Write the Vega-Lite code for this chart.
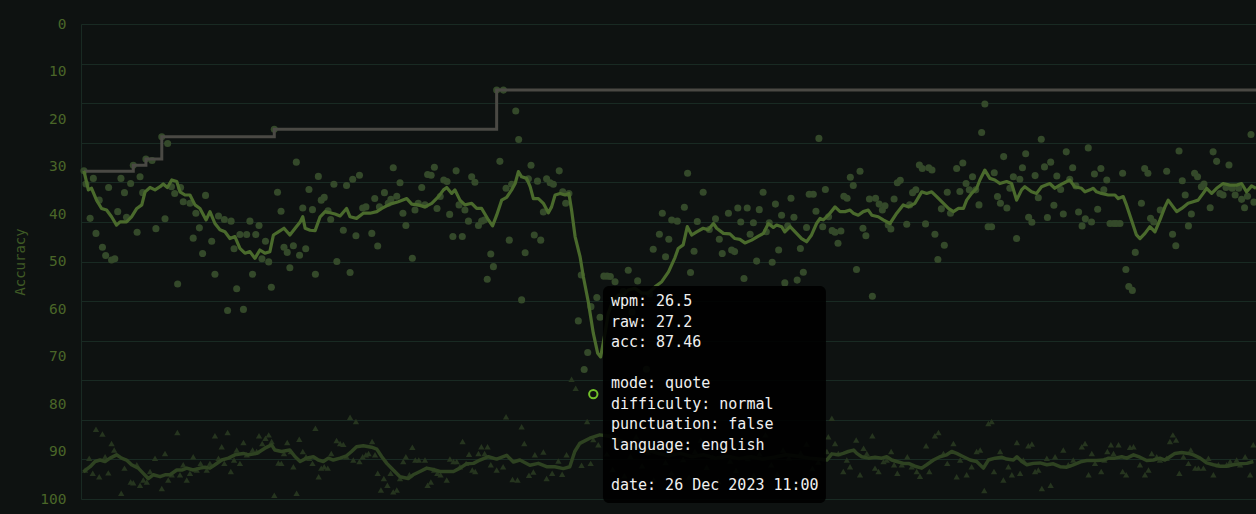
{
"$schema":"https://vega.github.io/schema/vega-lite/v6.json",
"width":1175,"height":475,
"autosize":"none",
"padding":{"left":81,"top":24,"right":0,"bottom":15},
"background":"#0e1211",
"config":{"view":{"stroke":null},"font":"DejaVu Sans Mono"},
"datasets":{
"wpm":[
{"test":1.0,"wpm":82.9},{"test":1.7,"wpm":79.6},{"test":3.1,"wpm":70.9},{"test":4.2,"wpm":81.0},{"test":5.1,"wpm":67.1},{"test":6.2,"wpm":75.5},{"test":7.3,"wpm":63.6},{"test":8.4,"wpm":61.5},{"test":9.4,"wpm":78.7},{"test":10.4,"wpm":60.4},{"test":11.5,"wpm":60.7},{"test":12.5,"wpm":72.6},{"test":13.6,"wpm":81.0},{"test":14.8,"wpm":77.4},{"test":15.5,"wpm":71.2},{"test":16.9,"wpm":79.7},{"test":17.8,"wpm":84.3},{"test":19.1,"wpm":67.4},{"test":20.1,"wpm":81.4},{"test":21.0,"wpm":77.4},{"test":22.1,"wpm":85.9},{"test":24.2,"wpm":85.5},{"test":25.5,"wpm":68.3},{"test":27.5,"wpm":91.5},{"test":28.6,"wpm":70.8},{"test":29.5,"wpm":89.8},{"test":30.8,"wpm":78.9},{"test":31.9,"wpm":77.2},{"test":32.9,"wpm":54.3},{"test":33.9,"wpm":78.7},{"test":34.8,"wpm":75.1},{"test":37.1,"wpm":74.7},{"test":38.2,"wpm":65.9},{"test":39.1,"wpm":72.2},{"test":40.3,"wpm":68.5},{"test":41.4,"wpm":62.0},{"test":42.4,"wpm":76.7},{"test":44.5,"wpm":65.1},{"test":45.6,"wpm":56.8},{"test":46.8,"wpm":71.5},{"test":48.8,"wpm":70.6},{"test":49.9,"wpm":47.6},{"test":51.1,"wpm":70.2},{"test":52.1,"wpm":63.2},{"test":53.0,"wpm":53.1},{"test":54.1,"wpm":66.8},{"test":55.3,"wpm":47.9},{"test":56.4,"wpm":66.8},{"test":57.5,"wpm":70.2},{"test":58.4,"wpm":56.8},{"test":59.5,"wpm":66.8},{"test":60.6,"wpm":69.1},{"test":61.6,"wpm":60.7},{"test":62.8,"wpm":65.1},{"test":63.9,"wpm":59.9},{"test":64.8,"wpm":53.5},{"test":65.8,"wpm":93.4},{"test":66.9,"wpm":77.5},{"test":68.1,"wpm":72.7},{"test":69.1,"wpm":63.6},{"test":70.2,"wpm":62.3},{"test":71.1,"wpm":58.4},{"test":72.3,"wpm":64.0},{"test":73.3,"wpm":85.1},{"test":74.4,"wpm":61.6},{"test":75.5,"wpm":73.5},{"test":76.5,"wpm":63.2},{"test":77.6,"wpm":78.2},{"test":78.8,"wpm":73.1},{"test":79.8,"wpm":56.8},{"test":80.8,"wpm":81.5},{"test":81.8,"wpm":75.5},{"test":82.8,"wpm":76.2},{"test":84.1,"wpm":72.8},{"test":85.0,"wpm":70.6},{"test":86.1,"wpm":79.5},{"test":87.1,"wpm":60.0},{"test":89.3,"wpm":67.9},{"test":90.4,"wpm":79.2},{"test":91.6,"wpm":57.2},{"test":92.5,"wpm":80.8},{"test":93.6,"wpm":66.5},{"test":94.8,"wpm":81.8},{"test":95.9,"wpm":73.5},{"test":97.0,"wpm":73.8},{"test":99.0,"wpm":67.1},{"test":100.0,"wpm":75.9},{"test":101.0,"wpm":63.9},{"test":101.6,"wpm":73.8},
{"test":103.3,"wpm":77.4},{"test":104.6,"wpm":74.7},{"test":105.5,"wpm":75.7},{"test":106.3,"wpm":83.7},{"test":107.5,"wpm":76.5},{"test":108.6,"wpm":79.9},{"test":109.6,"wpm":72.2},{"test":110.6,"wpm":69.1},{"test":112.8,"wpm":60.8},{"test":113.7,"wpm":73.0},{"test":114.8,"wpm":74.7},{"test":116.0,"wpm":78.7},{"test":117.1,"wpm":74.3},{"test":118.0,"wpm":82.0},{"test":119.2,"wpm":81.8},{"test":120.3,"wpm":83.8},{"test":121.2,"wpm":73.4},{"test":122.3,"wpm":76.4},{"test":123.5,"wpm":80.6},{"test":124.6,"wpm":80.2},{"test":125.5,"wpm":71.9},{"test":126.6,"wpm":66.3},{"test":127.7,"wpm":82.9},{"test":128.7,"wpm":74.3},{"test":129.8,"wpm":66.3},{"test":130.7,"wpm":73.0},{"test":131.9,"wpm":70.2},{"test":133.0,"wpm":81.4},{"test":134.1,"wpm":80.0},{"test":135.3,"wpm":69.1},{"test":136.4,"wpm":70.2},{"test":137.3,"wpm":70.5},{"test":138.3,"wpm":55.5},{"test":139.5,"wpm":61.9},{"test":140.4,"wpm":58.7},{"test":141.5,"wpm":103.3},{"test":142.6,"wpm":85.3},{"test":143.8,"wpm":103.3},{"test":144.7,"wpm":78.5},{"test":145.8,"wpm":65.4},{"test":146.6,"wpm":79.5},{"test":148.0,"wpm":98.0},{"test":149.0,"wpm":90.8},{"test":150.0,"wpm":50.3},{"test":151.2,"wpm":62.2},{"test":152.3,"wpm":80.9},{"test":153.2,"wpm":84.3},{"test":154.3,"wpm":66.7},{"test":155.4,"wpm":80.3},{"test":156.5,"wpm":65.4},{"test":157.4,"wpm":72.5},{"test":158.5,"wpm":80.9},{"test":159.7,"wpm":79.9},{"test":160.8,"wpm":79.5},{"test":162.8,"wpm":82.9},{"test":164.0,"wpm":77.6},{"test":165.0,"wpm":74.7},{"test":166.1,"wpm":77.2},{"test":169.3,"wpm":45.0},{"test":170.3,"wpm":56.6},{"test":171.3,"wpm":32.7},{"test":172.5,"wpm":37.0},{"test":173.6,"wpm":48.6},{"test":174.4,"wpm":26.5},{"test":175.6,"wpm":50.9},{"test":176.7,"wpm":45.9},{"test":178.0,"wpm":56.3},{"test":179.1,"wpm":56.3},{"test":180.2,"wpm":56.2},{"test":181.8,"wpm":54.9},{"test":183.2,"wpm":49.5},{"test":184.6,"wpm":52.4},{"test":186.3,"wpm":57.8},{"test":187.6,"wpm":47.2},{"test":189.5,"wpm":55.1},{"test":190.8,"wpm":44.6},{"test":192.5,"wpm":32.8},{"test":193.6,"wpm":51.8},{"test":194.8,"wpm":63.1},{"test":196.9,"wpm":66.9},{"test":197.9,"wpm":72.2},{"test":199.0,"wpm":61.2},{"test":200.1,"wpm":65.6},{"test":201.1,"wpm":70.5},
{"test":203.0,"wpm":70.2},{"test":205.4,"wpm":73.7},{"test":206.5,"wpm":82.3},{"test":207.5,"wpm":57.2},{"test":208.7,"wpm":62.6},{"test":209.8,"wpm":70.1},{"test":211.8,"wpm":77.5},{"test":213.9,"wpm":68.1},{"test":216.0,"wpm":70.8},{"test":217.3,"wpm":65.6},{"test":218.3,"wpm":62.0},{"test":220.4,"wpm":72.2},{"test":221.5,"wpm":62.9},{"test":222.5,"wpm":62.5},{"test":223.6,"wpm":73.5},{"test":224.6,"wpm":70.0},{"test":225.7,"wpm":55.7},{"test":226.8,"wpm":73.5},{"test":227.8,"wpm":66.9},{"test":228.9,"wpm":69.8},{"test":230.0,"wpm":60.1},{"test":230.9,"wpm":73.1},{"test":232.2,"wpm":77.5},{"test":233.3,"wpm":67.5},{"test":234.3,"wpm":69.8},{"test":235.3,"wpm":59.8},{"test":236.4,"wpm":74.5},{"test":237.5,"wpm":62.9},{"test":238.5,"wpm":71.7},{"test":239.6,"wpm":54.6},{"test":240.6,"wpm":69.0},{"test":241.7,"wpm":76.0},{"test":242.7,"wpm":71.2},{"test":243.8,"wpm":55.3},{"test":244.9,"wpm":63.3},{"test":245.9,"wpm":57.3},{"test":247.0,"wpm":68.6},{"test":247.9,"wpm":77.0},{"test":249.3,"wpm":77.0},{"test":250.2,"wpm":72.7},{"test":251.2,"wpm":91.1},{"test":252.5,"wpm":68.8},{"test":253.4,"wpm":78.2},{"test":254.5,"wpm":71.3},{"test":255.7,"wpm":67.8},{"test":256.7,"wpm":67.4},{"test":257.7,"wpm":64.6},{"test":258.7,"wpm":67.7},{"test":259.7,"wpm":76.5},{"test":260.8,"wpm":76.0},{"test":261.9,"wpm":81.3},{"test":262.9,"wpm":79.2},{"test":264.0,"wpm":58.0},{"test":265.2,"wpm":82.8},{"test":266.2,"wpm":68.4},{"test":267.2,"wpm":66.5},{"test":268.4,"wpm":75.8},{"test":269.4,"wpm":51.2},{"test":270.5,"wpm":76.0},{"test":271.7,"wpm":74.5},{"test":272.8,"wpm":73.0},{"test":273.7,"wpm":74.1},{"test":274.8,"wpm":69.2},{"test":275.7,"wpm":68.2},{"test":276.8,"wpm":75.8},{"test":277.9,"wpm":79.9},{"test":278.9,"wpm":80.5},{"test":281.1,"wpm":69.4},{"test":282.1,"wpm":74.3},{"test":283.1,"wpm":77.4},{"test":284.2,"wpm":78.1},{"test":285.4,"wpm":84.4},{"test":286.4,"wpm":83.5},{"test":287.5,"wpm":69.5},{"test":288.6,"wpm":83.7},{"test":289.7,"wpm":83.1},{"test":290.7,"wpm":66.9},{"test":291.7,"wpm":60.5},{"test":292.9,"wpm":73.3},{"test":293.9,"wpm":64.1},{"test":294.9,"wpm":77.5},{"test":296.0,"wpm":72.2},{"test":298.1,"wpm":83.5},{"test":299.2,"wpm":77.7},{"test":300.2,"wpm":84.9},{"test":301.3,"wpm":79.7},{"test":302.4,"wpm":78.1},
{"test":303.5,"wpm":81.4},{"test":304.6,"wpm":78.1},{"test":305.7,"wpm":74.3},{"test":306.6,"wpm":92.6},{"test":307.7,"wpm":99.8},{"test":308.8,"wpm":68.8},{"test":310.0,"wpm":68.8},{"test":310.9,"wpm":82.4},{"test":312.0,"wpm":76.4},{"test":313.0,"wpm":74.7},{"test":314.1,"wpm":86.5},{"test":315.2,"wpm":73.5},{"test":316.2,"wpm":78.5},{"test":317.4,"wpm":81.4},{"test":318.5,"wpm":65.8},{"test":319.6,"wpm":80.8},{"test":320.5,"wpm":83.7},{"test":321.6,"wpm":87.2},{"test":322.6,"wpm":71.2},{"test":323.7,"wpm":69.9},{"test":324.8,"wpm":81.7},{"test":325.9,"wpm":76.1},{"test":326.9,"wpm":90.9},{"test":328.0,"wpm":83.9},{"test":329.0,"wpm":71.1},{"test":330.1,"wpm":85.1},{"test":331.2,"wpm":74.2},{"test":332.2,"wpm":81.6},{"test":333.5,"wpm":78.2},{"test":334.4,"wpm":72.0},{"test":335.4,"wpm":87.7},{"test":336.6,"wpm":80.8},{"test":337.6,"wpm":83.7},{"test":338.7,"wpm":79.1},{"test":339.6,"wpm":72.5},{"test":340.8,"wpm":69.0},{"test":341.9,"wpm":70.8},{"test":342.9,"wpm":88.7},{"test":344.0,"wpm":70.0},{"test":345.0,"wpm":82.1},{"test":346.1,"wpm":73.2},{"test":347.2,"wpm":83.5},{"test":348.2,"wpm":78.1},{"test":349.2,"wpm":80.6},{"test":350.3,"wpm":69.6},{"test":351.6,"wpm":69.6},{"test":352.5,"wpm":69.6},{"test":353.7,"wpm":69.6},{"test":354.6,"wpm":82.3},{"test":355.7,"wpm":58.0},{"test":356.7,"wpm":53.7},{"test":357.9,"wpm":52.7},{"test":358.9,"wpm":62.3},{"test":361.0,"wpm":74.7},{"test":362.1,"wpm":83.5},{"test":363.2,"wpm":82.3},{"test":364.1,"wpm":70.9},{"test":365.2,"wpm":70.0},{"test":367.4,"wpm":73.0},{"test":369.6,"wpm":82.8},{"test":371.6,"wpm":66.9},{"test":372.7,"wpm":64.0},{"test":373.8,"wpm":87.9},{"test":374.9,"wpm":80.4},{"test":375.9,"wpm":76.8},{"test":377.0,"wpm":69.0},{"test":378.0,"wpm":72.0},{"test":379.1,"wpm":82.3},{"test":380.1,"wpm":81.4},{"test":381.4,"wpm":78.9},{"test":382.3,"wpm":79.6},{"test":384.4,"wpm":73.6},{"test":385.4,"wpm":87.7},{"test":386.6,"wpm":85.3},{"test":387.7,"wpm":77.2},{"test":388.8,"wpm":76.8},{"test":389.8,"wpm":78.7},{"test":390.8,"wpm":84.4},{"test":391.9,"wpm":78.5},{"test":392.9,"wpm":76.8},{"test":394.1,"wpm":78.5},{"test":395.1,"wpm":75.7},{"test":396.1,"wpm":73.6},{"test":397.1,"wpm":76.5},{"test":398.3,"wpm":92.1},{"test":399.3,"wpm":75.0}
],
"wpmavg":[
{"test":1.0,"wpm":82.9},{"test":2.5,"wpm":78.1},{"test":3.6,"wpm":78.5},{"test":5.3,"wpm":75.5},{"test":7.0,"wpm":73.4},{"test":8.7,"wpm":73.0},{"test":10.4,"wpm":71.3},{"test":12.1,"wpm":69.2},{"test":13.3,"wpm":70.0},{"test":15.5,"wpm":70.0},{"test":17.2,"wpm":71.3},{"test":19.0,"wpm":73.4},{"test":20.7,"wpm":74.3},{"test":21.8,"wpm":77.6},{"test":23.5,"wpm":78.7},{"test":25.2,"wpm":78.1},{"test":26.9,"wpm":78.9},{"test":28.0,"wpm":79.6},{"test":29.4,"wpm":78.7},{"test":30.9,"wpm":80.6},{"test":32.6,"wpm":80.2},{"test":33.7,"wpm":77.6},{"test":35.4,"wpm":76.8},{"test":37.1,"wpm":76.8},{"test":38.8,"wpm":74.3},{"test":40.5,"wpm":73.4},{"test":42.6,"wpm":70.5},{"test":43.9,"wpm":72.6},{"test":45.6,"wpm":69.6},{"test":47.3,"wpm":68.0},{"test":49.0,"wpm":67.5},{"test":50.7,"wpm":65.8},{"test":52.4,"wpm":66.3},{"test":54.1,"wpm":63.3},{"test":55.8,"wpm":62.1},{"test":57.5,"wpm":62.5},{"test":59.2,"wpm":60.8},{"test":60.9,"wpm":62.9},{"test":62.6,"wpm":62.1},{"test":64.3,"wpm":62.5},{"test":65.5,"wpm":66.7},{"test":67.2,"wpm":67.5},{"test":69.1,"wpm":68.4},{"test":71.1,"wpm":66.7},{"test":72.9,"wpm":68.4},{"test":74.6,"wpm":70.0},{"test":75.5,"wpm":71.3},{"test":76.3,"wpm":68.4},{"test":78.0,"wpm":67.9},{"test":79.7,"wpm":67.8},{"test":81.4,"wpm":71.3},{"test":83.1,"wpm":72.6},{"test":84.8,"wpm":72.3},{"test":86.5,"wpm":72.0},{"test":88.2,"wpm":71.5},{"test":90.4,"wpm":73.4},{"test":91.6,"wpm":71.3},{"test":93.8,"wpm":70.9},{"test":96.1,"wpm":72.2},{"test":98.4,"wpm":72.2},{"test":100.7,"wpm":72.6},{"test":102.4,"wpm":73.4},{"test":105.2,"wpm":74.5},{"test":108.0,"wpm":75.1},{"test":110.9,"wpm":75.9},{"test":112.6,"wpm":74.5},{"test":114.8,"wpm":74.3},{"test":117.1,"wpm":73.8},{"test":119.4,"wpm":74.7},{"test":121.7,"wpm":76.4},{"test":123.4,"wpm":78.1},{"test":124.5,"wpm":78.7},{"test":126.2,"wpm":77.2},{"test":127.3,"wpm":78.1},{"test":129.0,"wpm":75.5},{"test":130.7,"wpm":74.3},{"test":133.0,"wpm":74.7},{"test":134.7,"wpm":73.4},{"test":136.4,"wpm":73.4},{"test":138.7,"wpm":70.5},{"test":140.1,"wpm":69.0},{"test":141.5,"wpm":71.7},{"test":143.2,"wpm":75.5},{"test":144.9,"wpm":76.2},{"test":146.6,"wpm":78.1},{"test":147.8,"wpm":79.7},{"test":148.9,"wpm":82.7},{"test":150.0,"wpm":81.4},{"test":151.7,"wpm":81.0},{"test":152.9,"wpm":78.9},{"test":154.0,"wpm":75.9},{"test":155.7,"wpm":75.9},{"test":157.4,"wpm":74.7},{"test":159.1,"wpm":72.3},{"test":160.2,"wpm":73.8},{"test":161.4,"wpm":76.8},{"test":163.1,"wpm":77.2},{"test":164.8,"wpm":76.8},{"test":166.1,"wpm":77.2},{"test":167.0,"wpm":73.0},{"test":168.2,"wpm":66.3},{"test":169.9,"wpm":61.2},{"test":171.0,"wpm":56.2},{"test":172.7,"wpm":49.8},{"test":174.4,"wpm":41.9},{"test":175.9,"wpm":36.8},{"test":176.9,"wpm":35.9},{"test":178.4,"wpm":41.9},{"test":179.5,"wpm":46.9},{"test":180.7,"wpm":49.4},{"test":182.9,"wpm":51.5},{"test":184.6,"wpm":51.5},{"test":186.3,"wpm":52.8},{"test":188.6,"wpm":53.2},{"test":190.9,"wpm":52.0},{"test":193.1,"wpm":52.0},{"test":195.4,"wpm":53.6},{"test":197.7,"wpm":54.9},{"test":200.0,"wpm":57.4},{"test":202.2,"wpm":61.0},{"test":203.3,"wpm":63.3},{"test":205.0,"wpm":64.2},{"test":206.4,"wpm":68.8},{"test":207.9,"wpm":66.7},{"test":209.6,"wpm":67.5},{"test":211.8,"wpm":68.4},{"test":213.5,"wpm":68.0},{"test":215.3,"wpm":69.6},{"test":216.4,"wpm":68.4},{"test":218.7,"wpm":67.1},{"test":220.9,"wpm":67.0},{"test":222.6,"wpm":65.8},{"test":224.3,"wpm":65.6},{"test":226.0,"wpm":64.7},{"test":228.3,"wpm":65.4},{"test":230.6,"wpm":66.4},{"test":232.3,"wpm":67.1},{"test":234.0,"wpm":69.6},{"test":235.7,"wpm":68.6},{"test":236.8,"wpm":69.2},{"test":238.5,"wpm":68.8},{"test":239.6,"wpm":67.5},{"test":241.4,"wpm":68.8},{"test":243.6,"wpm":67.1},{"test":245.3,"wpm":65.8},{"test":247.0,"wpm":65.0},{"test":248.7,"wpm":66.7},{"test":250.4,"wpm":69.6},{"test":251.6,"wpm":70.9},{"test":252.7,"wpm":70.5},{"test":254.4,"wpm":71.7},{"test":256.7,"wpm":73.8},{"test":258.4,"wpm":72.6},{"test":260.1,"wpm":72.6},{"test":261.8,"wpm":73.0},{"test":262.9,"wpm":72.2},{"test":264.6,"wpm":71.7},{"test":266.3,"wpm":72.6},{"test":268.0,"wpm":73.0},{"test":269.2,"wpm":71.7},{"test":271.4,"wpm":71.3},{"test":273.1,"wpm":70.5},{"test":275.4,"wpm":69.6},{"test":277.7,"wpm":72.2},{"test":279.9,"wpm":74.3},{"test":281.6,"wpm":73.8},{"test":283.9,"wpm":74.7},{"test":286.2,"wpm":77.6},{"test":287.9,"wpm":77.2},{"test":289.6,"wpm":77.6},{"test":291.3,"wpm":76.4},{"test":293.6,"wpm":74.7},{"test":295.3,"wpm":73.4},{"test":297.0,"wpm":72.6},{"test":298.7,"wpm":73.4},{"test":300.4,"wpm":73.4},{"test":301.5,"wpm":75.5},{"test":303.2,"wpm":77.2},{"test":304.9,"wpm":78.5},{"test":306.0,"wpm":80.6},{"test":307.7,"wpm":83.1},{"test":309.4,"wpm":81.0},{"test":311.1,"wpm":80.6},{"test":312.8,"wpm":79.7},{"test":315.1,"wpm":80.2},{"test":316.8,"wpm":79.7},{"test":318.5,"wpm":75.5},{"test":320.2,"wpm":78.1},{"test":321.3,"wpm":78.9},{"test":323.6,"wpm":77.6},{"test":325.3,"wpm":77.2},{"test":327.0,"wpm":78.9},{"test":329.8,"wpm":79.7},{"test":331.5,"wpm":78.5},{"test":333.2,"wpm":79.3},{"test":336.6,"wpm":80.6},{"test":338.3,"wpm":78.9},{"test":340.6,"wpm":78.5},{"test":341.8,"wpm":77.6},{"test":343.5,"wpm":78.1},{"test":344.6,"wpm":78.5},{"test":345.7,"wpm":77.6},{"test":347.4,"wpm":77.2},{"test":349.7,"wpm":76.8},{"test":352.0,"wpm":76.8},{"test":353.1,"wpm":75.9},{"test":354.8,"wpm":76.4},{"test":355.9,"wpm":74.3},{"test":357.6,"wpm":70.5},{"test":359.3,"wpm":66.7},{"test":360.5,"wpm":65.8},{"test":362.2,"wpm":67.1},{"test":363.9,"wpm":68.8},{"test":365.6,"wpm":67.5},{"test":367.3,"wpm":70.5},{"test":369.0,"wpm":73.8},{"test":370.1,"wpm":75.5},{"test":371.8,"wpm":73.8},{"test":373.0,"wpm":72.6},{"test":374.7,"wpm":73.4},{"test":376.9,"wpm":74.7},{"test":378.6,"wpm":75.1},{"test":380.3,"wpm":75.5},{"test":382.0,"wpm":77.2},{"test":383.2,"wpm":78.5},{"test":384.9,"wpm":77.2},{"test":386.6,"wpm":78.5},{"test":388.8,"wpm":79.7},{"test":391.1,"wpm":79.3},{"test":393.4,"wpm":79.3},{"test":395.1,"wpm":79.7},{"test":396.8,"wpm":77.6},{"test":398.5,"wpm":79.1},{"test":400.0,"wpm":78.5}
],
"pb":[
{"test":1.0,"pb":82.8},{"test":17.8,"pb":84.3},{"test":22.1,"pb":85.9},{"test":27.5,"pb":91.5},{"test":65.8,"pb":93.4},{"test":141.5,"pb":103.3},{"test":400,"pb":103.3}
],
"acc":[
{"test":1.4,"acc":93.9},{"test":2.8,"acc":91.4},{"test":4.0,"acc":94.6},{"test":5.1,"acc":85.3},{"test":6.2,"acc":95.3},{"test":7.3,"acc":86.3},{"test":8.2,"acc":91.1},{"test":9.3,"acc":94.5},{"test":10.4,"acc":88.3},{"test":11.3,"acc":89.7},{"test":13.7,"acc":98.8},{"test":14.8,"acc":93.5},{"test":16.9,"acc":96.4},{"test":17.8,"acc":96.6},{"test":19.0,"acc":92.8},{"test":20.1,"acc":97.1},{"test":21.2,"acc":96.0},{"test":22.4,"acc":96.4},{"test":23.5,"acc":94.2},{"test":25.2,"acc":91.4},{"test":27.5,"acc":97.8},{"test":28.6,"acc":90.4},{"test":29.7,"acc":96.0},{"test":30.9,"acc":94.9},{"test":32.8,"acc":86.0},{"test":33.7,"acc":94.9},{"test":34.8,"acc":92.8},{"test":36.0,"acc":96.0},{"test":37.1,"acc":94.6},{"test":38.2,"acc":91.1},{"test":39.4,"acc":93.9},{"test":40.7,"acc":92.5},{"test":42.8,"acc":93.9},{"test":43.9,"acc":92.5},{"test":45.6,"acc":86.7},{"test":46.8,"acc":91.4},{"test":47.9,"acc":89.0},{"test":48.8,"acc":92.5},{"test":49.9,"acc":86.0},{"test":51.0,"acc":94.2},{"test":52.1,"acc":91.8},{"test":53.0,"acc":89.7},{"test":54.1,"acc":92.5},{"test":55.3,"acc":88.1},{"test":56.4,"acc":90.7},{"test":58.4,"acc":89.7},{"test":59.8,"acc":90.0},{"test":60.6,"acc":86.7},{"test":61.7,"acc":88.3},{"test":62.8,"acc":87.2},{"test":63.9,"acc":86.5},{"test":64.9,"acc":87.9},{"test":65.8,"acc":99.2},{"test":67.2,"acc":92.4},{"test":68.2,"acc":92.5},{"test":69.1,"acc":90.4},{"test":70.2,"acc":88.1},{"test":71.4,"acc":90.0},{"test":72.3,"acc":93.2},{"test":73.4,"acc":98.8},{"test":74.3,"acc":87.4},{"test":75.5,"acc":90.0},{"test":76.6,"acc":91.1},{"test":77.7,"acc":91.4},{"test":78.8,"acc":92.5},{"test":79.8,"acc":85.1},{"test":80.9,"acc":95.3},{"test":81.8,"acc":93.5},{"test":82.8,"acc":93.2},{"test":84.0,"acc":93.5},{"test":85.2,"acc":90.4},{"test":87.0,"acc":87.7},{"test":88.2,"acc":88.3},{"test":89.3,"acc":88.5},{"test":90.4,"acc":91.1},{"test":91.6,"acc":82.8},{"test":92.7,"acc":91.8},{"test":93.6,"acc":83.7},{"test":94.8,"acc":92.1},{"test":95.9,"acc":91.1},{"test":97.0,"acc":90.7},{"test":97.9,"acc":90.4},{"test":99.1,"acc":87.9},{"test":100.1,"acc":90.7},{"test":101.0,"acc":94.6},{"test":102.1,"acc":98.1},{"test":103.1,"acc":95.7},{"test":104.3,"acc":97.1},{"test":105.4,"acc":94.6},{"test":106.3,"acc":98.5},{"test":107.5,"acc":98.1},{"test":108.6,"acc":95.7},{"test":109.7,"acc":92.1},{"test":110.6,"acc":91.1},{"test":111.8,"acc":94.9},{"test":112.8,"acc":89.1},{"test":113.8,"acc":91.8},{"test":115.0,"acc":91.8},{"test":117.1,"acc":91.8},{"test":118.0,"acc":97.1},{"test":119.1,"acc":96.4},{"test":120.2,"acc":93.9},{"test":121.3,"acc":94.6},{"test":122.4,"acc":94.9},{"test":124.5,"acc":96.0},{"test":125.6,"acc":91.6},{"test":126.8,"acc":92.1},{"test":127.9,"acc":92.1},{"test":129.0,"acc":93.2},{"test":129.9,"acc":87.9},{"test":131.1,"acc":92.5},{"test":132.1,"acc":90.6},{"test":133.2,"acc":93.9},{"test":134.2,"acc":94.2},{"test":135.3,"acc":90.4},{"test":136.3,"acc":89.0},{"test":137.4,"acc":90.4},{"test":138.4,"acc":89.0},{"test":139.5,"acc":92.8},{"test":141.5,"acc":93.9},
{"test":143.7,"acc":93.2},{"test":144.7,"acc":82.7},{"test":146.9,"acc":95.9},{"test":148.6,"acc":96.0},{"test":150.0,"acc":84.8},{"test":150.9,"acc":88.3},{"test":152.5,"acc":95.0},{"test":154.0,"acc":94.3},{"test":154.5,"acc":90.7},{"test":157.4,"acc":90.1},{"test":158.5,"acc":95.7},{"test":160.4,"acc":94.6},{"test":162.5,"acc":92.0},{"test":163.8,"acc":94.8},{"test":165.3,"acc":90.7},{"test":167.0,"acc":74.8},{"test":168.4,"acc":76.7},{"test":170.4,"acc":92.9},{"test":172.3,"acc":83.7},{"test":173.5,"acc":92.5},{"test":174.4,"acc":87.5},{"test":176.1,"acc":88.6},
{"test":179,"acc":90.5},{"test":181,"acc":93.8},{"test":183,"acc":88.2},{"test":185,"acc":95.1},{"test":187,"acc":91.0},{"test":189,"acc":86.9},{"test":191,"acc":93.0},{"test":193,"acc":90.2},{"test":195,"acc":96.0},{"test":197,"acc":89.0},{"test":199,"acc":92.3},{"test":201,"acc":94.5},{"test":203,"acc":88.5},{"test":205,"acc":91.7},{"test":207,"acc":95.4},{"test":209,"acc":90.0},{"test":211,"acc":87.6},{"test":213,"acc":93.3},{"test":215,"acc":91.2},{"test":217,"acc":96.3},{"test":219,"acc":89.4},{"test":221,"acc":92.0},{"test":223,"acc":94.0},{"test":225,"acc":88.0},{"test":227,"acc":91.5},{"test":229,"acc":95.0},{"test":231,"acc":90.5},{"test":233,"acc":86.5},{"test":235,"acc":92.8},{"test":237,"acc":94.8},{"test":239,"acc":89.7},{"test":241,"acc":91.3},{"test":243,"acc":97.0},{"test":245,"acc":90.3},{"test":247,"acc":88.4},{"test":249,"acc":93.6},{"test":251,"acc":92.2},
{"test":253.9,"acc":90.0},{"test":254.4,"acc":86.9},{"test":255.6,"acc":83.0},{"test":256.7,"acc":88.3},{"test":257.8,"acc":90.4},{"test":259.5,"acc":94.2},{"test":260.7,"acc":91.8},{"test":261.8,"acc":93.2},{"test":263.9,"acc":87.6},{"test":265.2,"acc":94.9},{"test":266.4,"acc":89.3},{"test":267.5,"acc":90.4},{"test":269.4,"acc":86.7},{"test":270.3,"acc":93.5},{"test":271.5,"acc":94.2},{"test":273.2,"acc":92.1},{"test":274.3,"acc":91.8},{"test":275.8,"acc":90.0},{"test":276.8,"acc":92.8},{"test":277.9,"acc":94.6},{"test":279.4,"acc":92.8},{"test":281.3,"acc":91.1},{"test":282.8,"acc":93.2},{"test":284.5,"acc":94.2},{"test":285.6,"acc":95.2},{"test":287.7,"acc":88.8},{"test":288.8,"acc":94.2},{"test":290.7,"acc":86.7},{"test":291.9,"acc":86.0},{"test":293.6,"acc":90.4},{"test":294.9,"acc":92.5},{"test":297.0,"acc":88.3},{"test":298.1,"acc":95.3},{"test":299.3,"acc":91.8},{"test":301.5,"acc":94.9},{"test":303.2,"acc":93.2},{"test":304.9,"acc":90.0},{"test":306.1,"acc":89.7},{"test":307.5,"acc":98.2},{"test":308.9,"acc":84.1},{"test":310.0,"acc":83.7},{"test":310.8,"acc":94.2},{"test":312.9,"acc":90.0},{"test":314.0,"acc":96.0},{"test":315.7,"acc":93.2},{"test":316.9,"acc":94.9},{"test":318.6,"acc":88.1},{"test":319.7,"acc":94.6},{"test":320.8,"acc":91.8},{"test":322.5,"acc":88.8},{"test":323.7,"acc":88.4},{"test":324.8,"acc":94.2},{"test":325.9,"acc":93.9},{"test":327.1,"acc":97.8},{"test":328.8,"acc":91.4},{"test":330.1,"acc":97.1},{"test":331.6,"acc":91.1},{"test":334.4,"acc":89.7},{"test":336.1,"acc":92.8},{"test":337.8,"acc":91.8},{"test":340.7,"acc":89.0},{"test":341.8,"acc":88.3},{"test":343.0,"acc":94.9},{"test":344.1,"acc":90.4},{"test":345.2,"acc":92.5},{"test":347.3,"acc":94.2},{"test":348.4,"acc":91.8},{"test":349.4,"acc":90.0},{"test":350.6,"acc":88.6},{"test":351.5,"acc":90.4},{"test":353.2,"acc":88.6},{"test":354.6,"acc":94.2},{"test":355.8,"acc":94.9},{"test":357.1,"acc":89.1},{"test":358.3,"acc":89.0},{"test":360.5,"acc":92.8},{"test":362.2,"acc":94.9},{"test":363.4,"acc":93.9},{"test":364.5,"acc":90.4},{"test":366.2,"acc":91.1},{"test":367.3,"acc":91.8},{"test":369.6,"acc":91.4},{"test":370.7,"acc":87.9},{"test":371.7,"acc":86.5},{"test":372.8,"acc":87.6},{"test":373.9,"acc":94.6},{"test":375.3,"acc":91.1},{"test":377.0,"acc":92.5},{"test":377.8,"acc":89.7},{"test":379.3,"acc":93.5},{"test":380.4,"acc":93.5},{"test":382.1,"acc":93.5},{"test":383.8,"acc":91.4},{"test":385.5,"acc":94.9},{"test":387.2,"acc":92.8},{"test":390.0,"acc":92.8},{"test":391.2,"acc":92.1},{"test":393.4,"acc":91.8},{"test":394.6,"acc":92.8},{"test":396.3,"acc":91.1},{"test":398.0,"acc":94.9},{"test":399.1,"acc":88.6}
],
"accavg":[
{"test":0.8,"acc":94.3},{"test":3.1,"acc":93.2},{"test":4.8,"acc":92.1},{"test":6.5,"acc":91.8},{"test":8.2,"acc":92.1},{"test":9.9,"acc":91.4},{"test":12.1,"acc":90.7},{"test":13.8,"acc":91.4},{"test":15.5,"acc":91.8},{"test":17.2,"acc":92.8},{"test":19.5,"acc":93.5},{"test":21.2,"acc":94.6},{"test":22.9,"acc":95.7},{"test":24.6,"acc":94.9},{"test":26.9,"acc":95.3},{"test":28.6,"acc":94.9},{"test":30.3,"acc":94.9},{"test":32.6,"acc":93.9},{"test":34.3,"acc":93.9},{"test":36.0,"acc":93.5},{"test":38.2,"acc":93.9},{"test":40.5,"acc":93.5},{"test":42.2,"acc":93.3},{"test":43.9,"acc":93.5},{"test":45.6,"acc":92.8},{"test":47.9,"acc":91.8},{"test":50.2,"acc":91.4},{"test":52.4,"acc":90.7},{"test":55.3,"acc":90.4},{"test":57.0,"acc":90.7},{"test":59.8,"acc":90.4},{"test":62.6,"acc":89.3},{"test":64.9,"acc":88.6},{"test":66.0,"acc":89.7},{"test":68.3,"acc":90.0},{"test":71.1,"acc":89.7},{"test":72.9,"acc":91.1},{"test":74.6,"acc":92.1},{"test":76.8,"acc":91.4},{"test":79.1,"acc":91.1},{"test":80.8,"acc":91.8},{"test":82.5,"acc":92.1},{"test":84.2,"acc":91.4},{"test":85.9,"acc":91.8},{"test":88.2,"acc":91.4},{"test":90.4,"acc":90.9},{"test":92.1,"acc":90.0},{"test":93.8,"acc":89.0},{"test":96.1,"acc":88.8},{"test":98.9,"acc":89.1},{"test":100.7,"acc":89.5},{"test":102.4,"acc":91.1},{"test":104.1,"acc":92.5},{"test":106.3,"acc":93.9},{"test":108.6,"acc":95.3},{"test":111.4,"acc":95.7},{"test":113.1,"acc":94.9},{"test":115.4,"acc":94.2},{"test":117.7,"acc":93.5},{"test":119.9,"acc":93.8},{"test":122.2,"acc":94.2},{"test":124.5,"acc":94.2},{"test":126.8,"acc":94.2},{"test":129.0,"acc":93.5},{"test":131.3,"acc":92.6},{"test":133.6,"acc":92.5},{"test":135.8,"acc":91.8},{"test":138.7,"acc":91.1},{"test":141.5,"acc":91.6},{"test":144.9,"acc":90.8},{"test":147.2,"acc":92.2},{"test":149.4,"acc":91.8},{"test":152.8,"acc":92.9},{"test":155.7,"acc":92.5},{"test":158.5,"acc":93.2},{"test":161.3,"acc":93.2},{"test":164.2,"acc":93.6},{"test":166.4,"acc":93.2},{"test":168.1,"acc":90.0},{"test":169.8,"acc":88.3},{"test":173.2,"acc":87.2},{"test":176.6,"acc":86.5},{"test":180,"acc":86.8},{"test":184,"acc":87.8},{"test":188,"acc":88.9},{"test":192,"acc":89.6},{"test":196,"acc":90.3},{"test":200,"acc":90.9},{"test":204,"acc":90.4},{"test":208,"acc":91.1},{"test":212,"acc":90.7},{"test":216,"acc":91.4},{"test":220,"acc":91.0},{"test":224,"acc":91.5},{"test":228,"acc":91.1},{"test":232,"acc":91.6},{"test":236,"acc":91.2},{"test":240,"acc":90.7},{"test":244,"acc":91.0},{"test":248,"acc":91.4},{"test":251,"acc":91.6},{"test":253.9,"acc":91.8},{"test":255.6,"acc":90.5},{"test":257.8,"acc":90.7},{"test":259.5,"acc":90.4},{"test":261.2,"acc":90.0},{"test":263.0,"acc":89.7},{"test":264.1,"acc":90.4},{"test":265.8,"acc":91.1},{"test":268.1,"acc":91.4},{"test":270.3,"acc":91.2},{"test":272.6,"acc":91.4},{"test":274.3,"acc":91.1},{"test":276.0,"acc":91.8},{"test":277.7,"acc":92.1},{"test":280.0,"acc":92.5},{"test":281.7,"acc":92.5},{"test":283.9,"acc":93.1},{"test":286.2,"acc":93.5},{"test":287.9,"acc":92.8},{"test":290.2,"acc":91.8},{"test":292.4,"acc":91.1},{"test":294.7,"acc":90.7},{"test":296.4,"acc":90.0},{"test":298.1,"acc":90.4},{"test":300.4,"acc":91.1},{"test":302.7,"acc":91.8},{"test":304.9,"acc":92.1},{"test":307.2,"acc":93.5},{"test":308.9,"acc":91.8},{"test":311.2,"acc":91.4},{"test":313.4,"acc":91.2},{"test":315.1,"acc":91.6},{"test":317.4,"acc":91.8},{"test":318.6,"acc":91.1},{"test":320.3,"acc":92.1},{"test":322.0,"acc":92.8},{"test":324.2,"acc":92.5},{"test":326.5,"acc":92.4},{"test":328.8,"acc":92.8},{"test":331.0,"acc":92.6},{"test":333.3,"acc":93.2},{"test":335.6,"acc":93.3},{"test":337.8,"acc":92.8},{"test":340.7,"acc":92.1},{"test":342.4,"acc":91.9},{"test":345.8,"acc":91.9},{"test":348.1,"acc":91.8},{"test":349.8,"acc":91.4},{"test":352.0,"acc":91.4},{"test":354.3,"acc":91.1},{"test":356.0,"acc":91.4},{"test":358.3,"acc":90.7},{"test":360.5,"acc":91.2},{"test":362.8,"acc":91.9},{"test":365.1,"acc":91.8},{"test":367.3,"acc":91.4},{"test":369.0,"acc":91.8},{"test":370.7,"acc":91.1},{"test":372.4,"acc":90.4},{"test":374.7,"acc":90.2},{"test":377.0,"acc":90.4},{"test":378.7,"acc":90.7},{"test":381.0,"acc":91.4},{"test":383.2,"acc":92.4},{"test":385.5,"acc":92.8},{"test":387.8,"acc":93.1},{"test":390.0,"acc":93.1},{"test":392.3,"acc":92.8},{"test":394.6,"acc":92.6},{"test":396.9,"acc":92.5},{"test":399.1,"acc":92.1}
],
"tip":[
{"test":174.4,"wpm":26.5,"stats":["wpm: 26.5","raw: 27.2","acc: 87.46"],"info":["mode: quote","difficulty: normal","punctuation: false","language: english"],"date":"date: 26 Dec 2023 11:00"}
]
},
"layer":[
{
"encoding":{
"x":{"field":"test","type":"quantitative","scale":{"domain":[0,400],"nice":false,"zero":false},"axis":null},
"y":{"field":"acc","type":"quantitative","scale":{"domain":[0,100],"reverse":true,"nice":false,"zero":false},
"axis":{"orient":"left","values":[0,10,20,30,40,50,60,70,80,90,100],"grid":false,"ticks":false,"domain":true,"domainColor":"#192a23","labelColor":"#4a6628","labelFont":"DejaVu Sans Mono","labelFontSize":14.5,"labelPadding":15,"title":"Accuracy","titleColor":"#3f5a25","titleFont":"DejaVu Sans Mono","titleFontSize":14,"titleFontWeight":"normal","titlePadding":12}}
},
"layer":[
{"data":{"name":"acc"},"mark":{"type":"point","shape":"triangle-up","filled":true,"size":40,"color":"#26351f","opacity":1}},
{"data":{"name":"accavg"},"mark":{"type":"line","color":"#2e4221","strokeWidth":3.5,"strokeJoin":"round"}}
]
},
{
"encoding":{
"x":{"field":"test","type":"quantitative","scale":{"domain":[0,400],"nice":false,"zero":false},"axis":null},
"y":{"field":"wpm","type":"quantitative","scale":{"domain":[0,120],"nice":false,"zero":false},
"axis":{"orient":"right","values":[0,10,20,30,40,50,60,70,80,90,100,110,120],"grid":true,"gridColor":"#192a23","gridWidth":1,"labels":false,"ticks":false,"domain":false,"title":null}}
},
"layer":[
{"data":{"name":"wpm"},"mark":{"type":"circle","size":50,"color":"#34492a","opacity":1}},
{"data":{"name":"pb"},"mark":{"type":"line","interpolate":"step-after","color":"#4a4944","strokeWidth":3},"encoding":{"y":{"field":"pb","type":"quantitative"}}},
{"data":{"name":"wpmavg"},"mark":{"type":"line","color":"#4a6a2c","strokeWidth":3.2,"strokeJoin":"round"}},
{"data":{"name":"tip"},"mark":{"type":"point","filled":true,"fill":"#0e1211","stroke":"#72c12a","strokeWidth":2,"size":70,"opacity":1}}
]
},
{
"data":{"name":"tip"},
"encoding":{
"x":{"datum":180.4,"type":"quantitative","scale":{"domain":[0,400],"nice":false,"zero":false},"axis":null}
},
"layer":[
{"mark":{"type":"rect","fill":"#000000","fillOpacity":0.9,"cornerRadius":6},
 "encoding":{
  "x":{"datum":177.7,"type":"quantitative"},
  "x2":{"datum":253.6},
  "y":{"datum":53.8,"type":"quantitative","scale":{"domain":[0,120],"nice":false,"zero":false},"axis":null},
  "y2":{"datum":-1.0}}},
{"mark":{"type":"text","align":"left","baseline":"alphabetic","lineHeight":20.5,"font":"DejaVu Sans Mono","fontSize":15,"color":"#f0f0f0"},
 "encoding":{"y":{"datum":48.75,"type":"quantitative"},"text":{"field":"stats"}}},
{"mark":{"type":"text","align":"left","baseline":"alphabetic","lineHeight":20.5,"font":"DejaVu Sans Mono","fontSize":15,"color":"#f0f0f0"},
 "encoding":{"y":{"datum":28.0,"type":"quantitative"},"text":{"field":"info"}}},
{"mark":{"type":"text","align":"left","baseline":"alphabetic","font":"DejaVu Sans Mono","fontSize":15,"color":"#f0f0f0"},
 "encoding":{"y":{"datum":2.2,"type":"quantitative"},"text":{"field":"date"}}}
]
}
],
"resolve":{"scale":{"y":"independent"},"axis":{"y":"independent"}}
}
